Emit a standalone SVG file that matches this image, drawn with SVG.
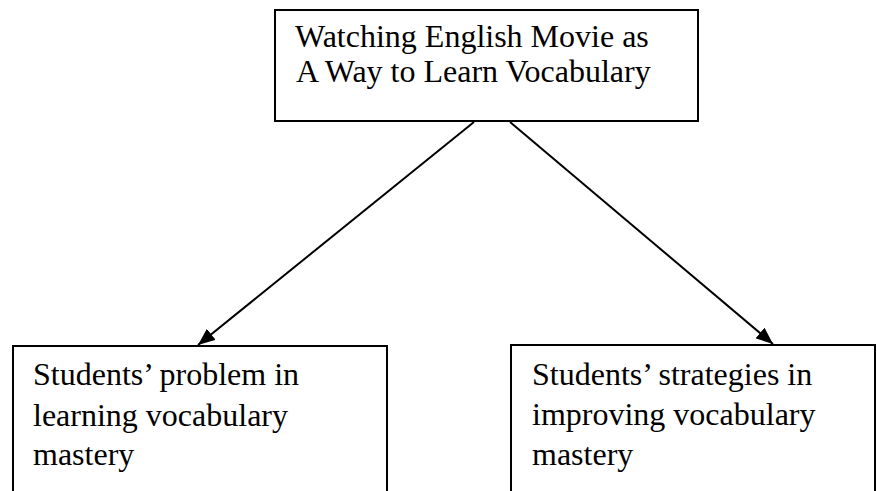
<svg xmlns="http://www.w3.org/2000/svg" width="877" height="491" viewBox="0 0 877 491">
  <style>
    .box { fill: #ffffff; stroke: #000000; stroke-width: 2; }
    .lbl { font-family: 'Liberation Serif', 'Times New Roman', Tinos, serif; font-size: 32px; fill: #000000; }
    .conn { stroke: #000000; stroke-width: 2; fill: none; }
  </style>
  <defs>
    <marker id="arrow" markerUnits="userSpaceOnUse" markerWidth="18" markerHeight="14" refX="17" refY="7" orient="auto">
      <path d="M0,0 L17,7 L0,14 z" fill="#000000"/>
    </marker>
  </defs>
  <rect x="0" y="0" width="877" height="491" fill="#ffffff"/>
  <g id="connectors">
    <line class="conn" x1="474" y1="122" x2="198" y2="345" marker-end="url(#arrow)"/>
    <line class="conn" x1="510" y1="122" x2="773" y2="344" marker-end="url(#arrow)"/>
  </g>
  <g id="node-top">
    <rect class="box" x="275" y="10" width="423" height="111"/>
    <text class="lbl" x="295" y="47">Watching English Movie as</text>
    <text class="lbl" x="296" y="82">A Way to Learn Vocabulary</text>
  </g>
  <g id="node-left">
    <rect class="box" x="13" y="346" width="374" height="160"/>
    <text class="lbl" x="33" y="385">Students’ problem in</text>
    <text class="lbl" x="33" y="426">learning vocabulary</text>
    <text class="lbl" x="33" y="465">mastery</text>
  </g>
  <g id="node-right">
    <rect class="box" x="511" y="345" width="364" height="160"/>
    <text class="lbl" x="532" y="385">Students’ strategies in</text>
    <text class="lbl" x="532" y="425">improving vocabulary</text>
    <text class="lbl" x="532" y="465">mastery</text>
  </g>
</svg>
